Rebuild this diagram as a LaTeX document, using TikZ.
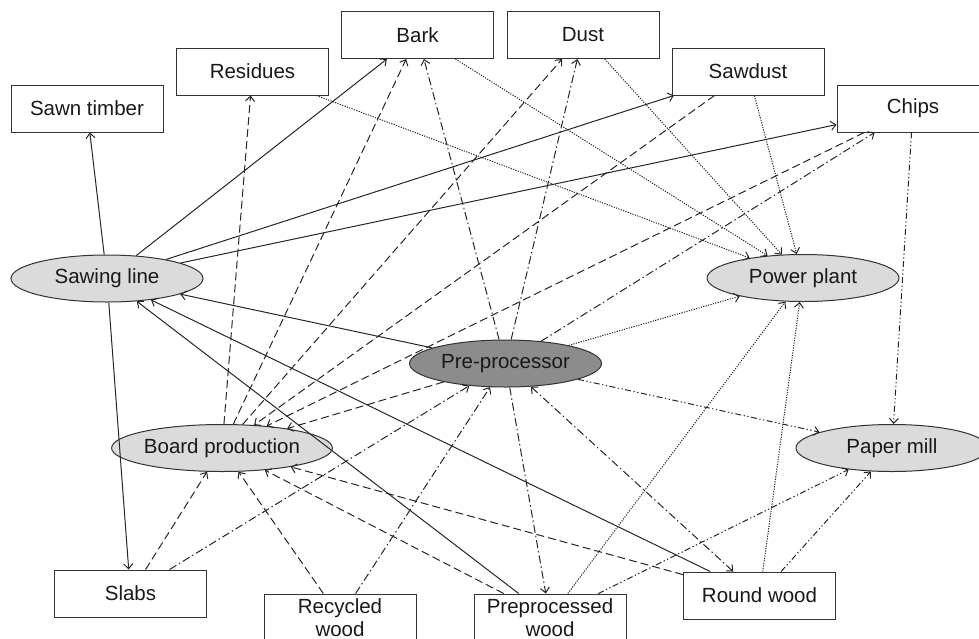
\documentclass[tikz,border=0pt]{standalone}
\usepackage{fontspec}
\setmainfont{Liberation Sans}
\usetikzlibrary{shapes.geometric,arrows.meta}

\begin{document}
\begin{tikzpicture}[x=1pt,y=-1pt,
    >={Straight Barb[length=5pt,width=9pt]},
    every node/.style={font=\fontsize{20.5}{23}\selectfont, text=black!90},
    item/.style={draw=black!80, line width=1pt, fill=white, minimum width=152pt, minimum height=47pt, inner sep=0pt, align=center},
    unit/.style={ellipse, draw=black!80, line width=1pt, fill=black!14, minimum width=192pt, minimum height=47pt, inner sep=0pt},
    solidline/.style={->, draw=black!85, line width=1pt},
    dashline/.style={solidline, dash pattern=on 8pt off 4pt},
    dotline/.style={solidline, dash pattern=on 1.2pt off 1.3pt},
    dashdotline/.style={solidline, dash pattern=on 8pt off 3pt on 1.5pt off 3pt},
    dashdotdotline/.style={solidline, dash pattern=on 6pt off 2.5pt on 1.3pt off 2.5pt on 1.3pt off 2.5pt}]
            \useasboundingbox (0,0) rectangle (979,638);
            \clip (0,0) rectangle (979,638);
            % products and sources
            \node[item] (sawn) at (87,108.5) {Sawn timber};
            \node[item] (residues) at (252.5,71.5) {Residues};
            \node[item] (bark) at (417.5,35) {Bark};
            \node[item] (dust) at (583,35) {Dust};
            \node[item] (sawdust) at (748,71.5) {Sawdust};
            \node[item] (chips) at (913,108.5) {Chips};
            \node[item] (slabs) at (130.5,593.5) {Slabs};
            \node[item] (recycled) at (340,617.5) {Recycled\\wood};
            \node[item] (prepwood) at (550,617.5) {Preprocessed\\wood};
            \node[item] (round) at (759.5,595.5) {Round wood};
            % processing units
            \node[unit] (sawing) at (107,278.5) {Sawing line};
            \node[unit] (power) at (803,278) {Power plant};
            \node[unit, fill=black!45] (pre) at (505.5,363.5) {Pre-processor};
            \node[unit] (board) at (222,448) {Board production};
            \node[unit] (paper) at (892,448) {Paper mill};
            % solid
            \draw[solidline] (sawing) -- (sawn);
            \draw[solidline] (sawing) -- (slabs);
            \draw[solidline] (sawing) -- (bark);
            \draw[solidline] (sawing) -- (sawdust);
            \draw[solidline] (sawing) -- (chips);
            \draw[solidline] (pre) -- (sawing);
            \draw[solidline] (prepwood) -- (sawing);
            \draw[solidline] (round) -- (sawing);
            % dashed
            \draw[dashline] (board) -- (residues);
            \draw[dashline] (board) -- (bark);
            \draw[dashline] (board) -- (dust);
            \draw[dashline] (sawdust) -- (board);
            \draw[dashline] (chips) -- (board);
            \draw[dashline] (pre) -- (board);
            \draw[dashline] (slabs) -- (board);
            \draw[dashline] (recycled) -- (board);
            \draw[dashline] (prepwood) -- (board);
            \draw[dashline] (round) -- (board);
            % dotted
            \draw[dotline] (residues) -- (power);
            \draw[dotline] (bark) -- (power);
            \draw[dotline] (dust) -- (power);
            \draw[dotline] (sawdust) -- (power);
            \draw[dotline] (pre) -- (power);
            \draw[dotline] (prepwood) -- (power);
            \draw[dotline] (round) -- (power);
            % dash dot
            \draw[dashdotline] (pre) -- (bark);
            \draw[dashdotline] (pre) -- (dust);
            \draw[dashdotline] (pre) -- (chips);
            \draw[dashdotline] (slabs) -- (pre);
            \draw[dashdotline] (recycled) -- (pre);
            \draw[dashdotline] (pre) -- (prepwood);
            \draw[dashdotline, <->] (pre) -- (round);
            % dash dot dot
            \draw[dashdotdotline] (pre) -- (paper);
            \draw[dashdotdotline] (chips) -- (paper);
            \draw[dashdotdotline] (prepwood) -- (paper);
            \draw[dashdotdotline] (round) -- (paper);
        \end{tikzpicture}
\end{document}
